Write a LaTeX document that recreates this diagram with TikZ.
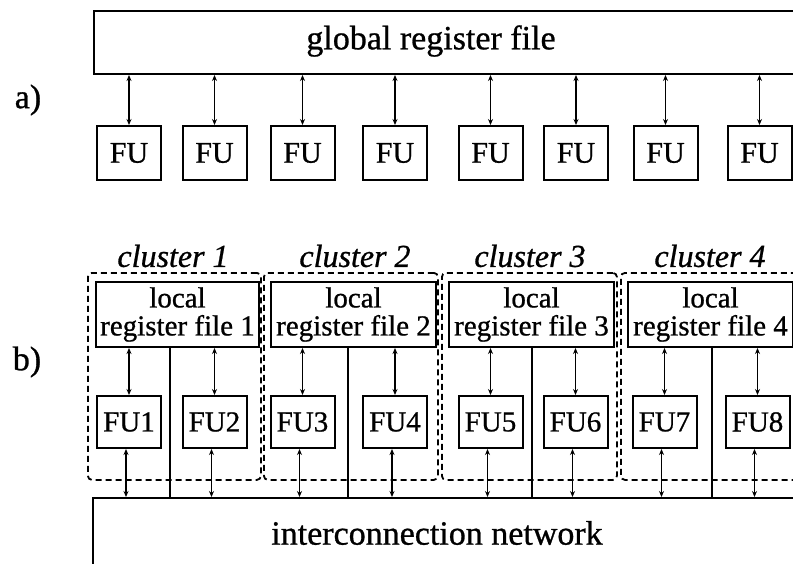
\documentclass[tikz,border=0pt]{standalone}
\usepackage{fontspec}
\setmainfont{Liberation Serif}[FakeBold=0.8]
\usetikzlibrary{arrows.meta}
\tikzset{
  box/.style={draw, line width=2pt, inner sep=0pt, anchor=north west},
  fubox/.style={draw, line width=2pt, inner sep=0pt, minimum width=64pt, minimum height=54pt, font=\fontsize{30}{30}\selectfont},
  fubbox/.style={draw, line width=2pt, inner sep=0pt, minimum width=64pt, minimum height=52pt, font=\fontsize{29}{29}\selectfont},
  clbox/.style={draw, line width=1.8pt, dash pattern=on 6pt off 4pt, rounded corners=4pt, inner sep=0pt, anchor=north west},
  lrfbox/.style={draw, line width=2pt, inner sep=0pt, anchor=north west, align=center, font=\fontsize{29}{28}\selectfont},
  bigtext/.style={font=\fontsize{34}{34}\selectfont},
  cltext/.style={font=\fontsize{32}{32}\selectfont\itshape},
  biarrow/.style={line width=1.8pt, {Stealth[length=6pt,width=5pt]}-{Stealth[length=6pt,width=5pt]}},
  plain/.style={line width=1.8pt}
}
\begin{document}
\begin{tikzpicture}[x=1pt,y=-1pt]
\clip (0,0) rectangle (793,563);
\fill[white] (0,0) rectangle (793,563);

% ---------- a) ----------
\node[bigtext] (la) at (28,100) {a)};
\node[box, minimum width=760pt, minimum height=63pt] (grf) at (93,10) {};
\node[bigtext] (grft) at (431,41) {global register file};
\foreach \i/\x in {1/129,2/214.5,3/302.5,4/395,5/490.5,6/576,7/665.5,8/759.5}{
  \node[fubox] (fa\i) at (\x,153) {FU};
  \draw[biarrow] (fa\i.north |- grf.south) -- (fa\i.north);
}

% ---------- b) ----------
\node[bigtext] (lb) at (27,362) {b)};
\node[box, minimum width=760pt, minimum height=90pt] (net) at (92,497) {};
\node[bigtext] (nett) at (437,533) {interconnection network};

\node[clbox, minimum width=173pt, minimum height=207pt] (cl1) at (87,272) {};
\node[clbox, minimum width=174pt, minimum height=207pt] (cl2) at (263,272) {};
\node[clbox, minimum width=175pt, minimum height=207pt] (cl3) at (441,272) {};
\node[clbox, minimum width=190pt, minimum height=207pt] (cl4) at (620,272) {};

\node[cltext] (ct1) at (173,256) {cluster 1};
\node[cltext] (ct2) at (355,256) {cluster 2};
\node[cltext] (ct3) at (530,256) {cluster 3};
\node[cltext] (ct4) at (710,256) {cluster 4};

\node[lrfbox, minimum width=163pt, minimum height=65pt] (r1) at (95,281) {local\\register file 1};
\node[lrfbox, minimum width=165pt, minimum height=65pt] (r2) at (270,281) {local\\register file 2};
\node[lrfbox, minimum width=165pt, minimum height=65pt] (r3) at (448,281) {local\\register file 3};
\node[lrfbox, minimum width=165pt, minimum height=65pt] (r4) at (627,281) {local\\register file 4};

\node[fubbox] (f1) at (129,422) {FU1};
\node[fubbox] (f2) at (214.5,422) {FU2};
\node[fubbox] (f3) at (302.5,422) {FU3};
\node[fubbox] (f4) at (395,422) {FU4};
\node[fubbox] (f5) at (490.5,422) {FU5};
\node[fubbox] (f6) at (575.5,422) {FU6};
\node[fubbox] (f7) at (664.5,422) {FU7};
\node[fubbox] (f8) at (757.5,422) {FU8};

\foreach \r/\a/\b in {r1/f1/f2, r2/f3/f4, r3/f5/f6, r4/f7/f8}{
  \draw[biarrow] (\a.north |- \r.south) -- (\a.north);
  \draw[biarrow] (\b.north |- \r.south) -- (\b.north);
}
\foreach \f in {f1,f2,f3,f4,f5,f6,f7,f8}{
  \draw[biarrow] ([xshift=-3pt]\f.south) -- ([xshift=-3pt]\f.south |- net.north);
}
\coordinate (m1) at (170,346);
\coordinate (m2) at (348,346);
\coordinate (m3) at (532,346);
\coordinate (m4) at (712,346);
\foreach \m in {m1,m2,m3,m4}{
  \draw[plain] (\m) -- (\m |- net.north);
}
\end{tikzpicture}
\end{document}
